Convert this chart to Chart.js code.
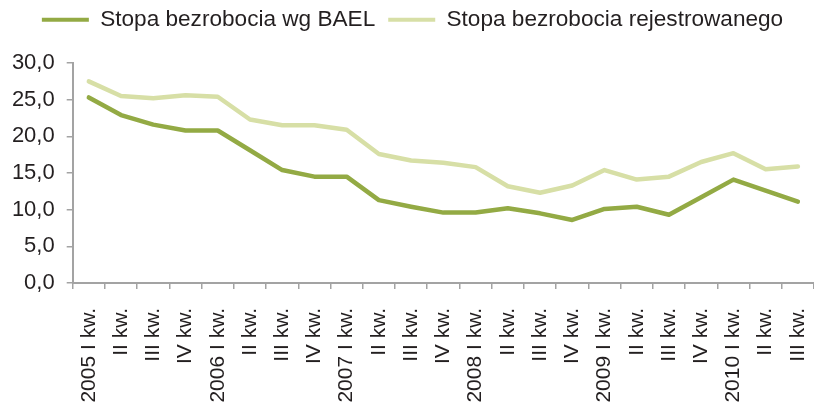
<!DOCTYPE html>
<html lang="pl">
<head>
  <meta charset="UTF-8">
  <title>Stopa bezrobocia</title>
  <style>
    html, body { margin: 0; padding: 0; background: #fff; }
    #wrap { width: 814px; height: 405px; }
  </style>
</head>
<body>
  <div id="wrap"><canvas id="chart" width="814" height="405"></canvas></div>

  <script src="https://cdn.jsdelivr.net/npm/chart.js"></script>
  <script>
    // kwartały 2005 I - 2010 III
    const quarters = [
      "2005 I kw.", "II kw.", "III kw.", "IV kw.",
      "2006 I kw.", "II kw.", "III kw.", "IV kw.",
      "2007 I kw.", "II kw.", "III kw.", "IV kw.",
      "2008 I kw.", "II kw.", "III kw.", "IV kw.",
      "2009 I kw.", "II kw.", "III kw.", "IV kw.",
      "2010 I kw.", "II kw.", "III kw."
    ];
    const baelRate = [25.3, 22.9, 21.6, 20.8, 20.8, 18.1, 15.4, 14.5, 14.5, 11.3, 10.4, 9.6,
                      9.6, 10.2, 9.5, 8.6, 10.1, 10.4, 9.3, 11.7, 14.1, 12.6, 11.1];
    const registeredRate = [27.5, 25.5, 25.2, 25.6, 25.4, 22.3, 21.5, 21.5, 20.9, 17.6, 16.7, 16.4,
                            15.8, 13.2, 12.3, 13.3, 15.4, 14.1, 14.5, 16.5, 17.7, 15.5, 15.9];
    const yTicks = [0, 5, 10, 15, 20, 25, 30];

    const axisGray = '#a3a3a3';
    const textColor = '#231f20';
    const font = "'Liberation Sans', Arial, sans-serif";

    // plot area edges
    const padTop = -4.5;
    const areaTop = 63;
    const areaLeft = 72.7;
    const areaBottom = 283;

    const ctx = document.getElementById("chart").getContext("2d");
    new Chart(ctx, {
      type: 'line',
      data: {
        labels: quarters,
        datasets: [{
          label: 'Stopa bezrobocia wg BAEL',
          data: baelRate,
          xAxisID: 'x',
          yAxisID: 'y',
          borderColor: '#93aa44',
          backgroundColor: '#93aa44',
          borderWidth: 4.5,
          borderCapStyle: 'round',
          borderJoinStyle: 'round',
          pointRadius: 0,
          tension: 0
        }, {
          label: 'Stopa bezrobocia rejestrowanego',
          data: registeredRate,
          xAxisID: 'x',
          yAxisID: 'y',
          borderColor: '#d7dfa6',
          backgroundColor: '#d7dfa6',
          borderWidth: 4.5,
          borderCapStyle: 'round',
          borderJoinStyle: 'round',
          pointRadius: 0,
          tension: 0
        }]
      },
      options: {
        responsive: false,
        animation: false,
        layout: { padding: { top: padTop, left: 9, right: -2, bottom: 0 } },
        plugins: {
          tooltip: { enabled: false },
          legend: {
            position: 'top',
            labels: {
              color: textColor,
              font: { family: font, size: 22.6 },
              boxWidth: 47,
              boxHeight: 4,
              padding: 13,
              generateLabels: (chart) =>
                Chart.defaults.plugins.legend.labels.generateLabels(chart)
                  .map(l => ({ ...l, lineWidth: 0 }))
            }
          }
        },
        scales: {
          x: {
            offset: true,
            grid: {
              offset: true,
              drawOnChartArea: false,
              color: axisGray,
              tickLength: 6,
              lineWidth: 1.5
            },
            border: { color: axisGray, width: 2 },
            ticks: {
              color: textColor,
              font: { family: font, size: 21 },
              minRotation: 90,
              maxRotation: 90,
              autoSkip: false,
              padding: 19
            },
            afterFit: (s) => {
              s.paddingLeft = 0;
              s.paddingRight = 0;
              s.height = 405 - areaBottom;
            }
          },
          // empty spacer between legend and plot
          spacer: {
            type: 'category',
            position: 'top',
            grid: { display: false },
            border: { display: false },
            ticks: { display: false },
            afterFit: (s) => {
              s.height = Math.max(0, areaTop - padTop - s.chart.legend.height);
            }
          },
          y: {
            min: 0,
            max: 30,
            afterBuildTicks: (axis) => { axis.ticks = yTicks.map(v => ({ value: v })); },
            grid: {
              drawOnChartArea: false,
              color: axisGray,
              tickLength: 6,
              lineWidth: 1.5
            },
            border: { color: axisGray, width: 2 },
            ticks: {
              color: textColor,
              font: { family: font, size: 22 },
              padding: 12,
              callback: (v) => v.toFixed(1).replace('.', ',')
            },
            afterFit: (s) => { s.width = areaLeft - 9; }
          }
        }
      }
    });
  </script>
</body>
</html>
